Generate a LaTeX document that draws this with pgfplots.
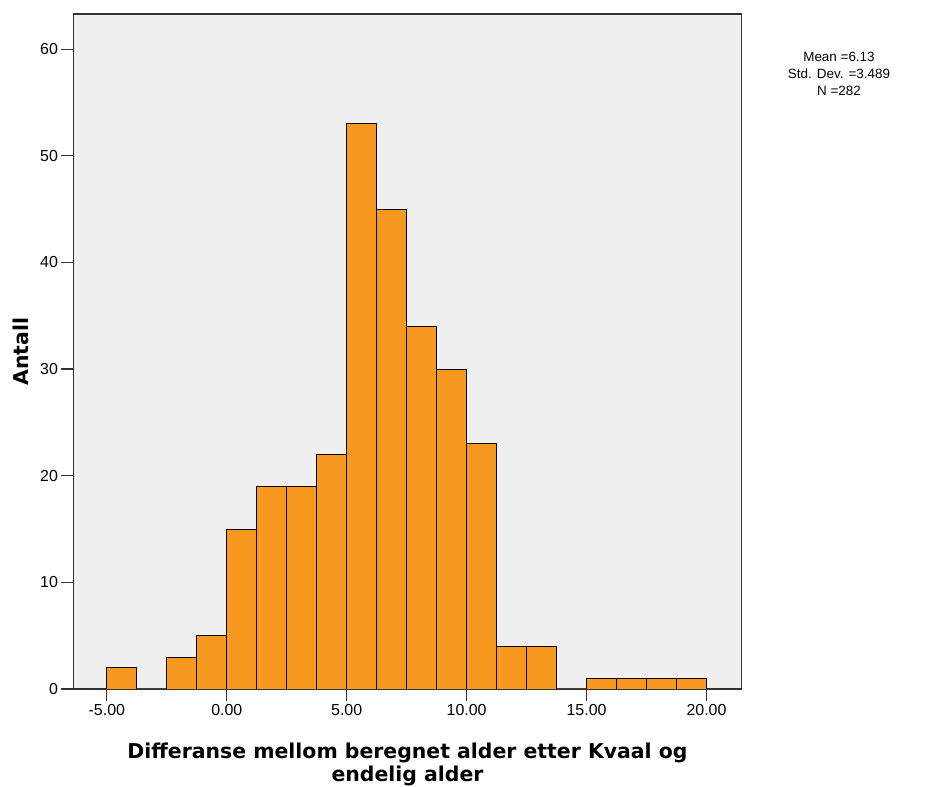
\documentclass[border=0pt]{standalone}
\usepackage{fontspec}
\setmainfont{Liberation Sans}
\newfontfamily\labfont{DejaVu Sans}
\usepackage{pgfplots}
\pgfplotsset{compat=1.18}
\definecolor{barfill}{HTML}{F7991F}
\definecolor{bgc}{HTML}{F0F0F0}
\definecolor{axc}{HTML}{333333}
\begin{document}
\begin{tikzpicture}[x=1bp,y=1bp]
\useasboundingbox (0,0) rectangle (929,787);
\begin{axis}[
  at={(73.5bp,98bp)}, anchor=south west,
  scale only axis, width=668bp, height=675bp,
  xmin=-6.39, xmax=21.46, ymin=0, ymax=63.3,
  axis background/.style={fill=bgc},
  axis line style={draw=axc, line width=1.2pt},
  xtick={-5,0,5,10,15,20}, ytick={0,10,20,30,40,50,60},
  xtick pos=bottom, ytick pos=left, tick align=outside,
  major tick length=12bp,
  tick style={draw=axc, line width=1.3pt},
  minor tick num=0,
  /pgf/number format/assume math mode=true,
  x tick label style={/pgf/number format/.cd, fixed, fixed zerofill, precision=2},
  ticklabel style={font=\fontsize{16}{18}\selectfont},
  xlabel={Differanse mellom beregnet alder etter Kvaal og\\endelig alder},
  xlabel style={align=center, font=\labfont\bfseries\fontsize{20.5}{23}\selectfont,
    at={(axis description cs:0.5,-0.075)}, anchor=north},
  ylabel={Antall},
  ylabel style={font=\labfont\bfseries\fontsize{20.5}{23}\selectfont,
    at={(axis description cs:-0.079,0.5)}, anchor=center},
]
\addplot[ybar interval, fill=barfill, draw=black, line width=0.9pt] table {
x y
-5 2
-3.75 0
-2.5 3
-1.25 5
0 15
1.25 19
2.5 19
3.75 22
5 53
6.25 45
7.5 34
8.75 30
10 23
11.25 4
12.5 4
13.75 0
15 1
16.25 1
17.5 1
18.75 1
20 1
};
\end{axis}
\node[align=center, font=\fontsize{13.5}{17}\selectfont, anchor=center] at (839,713) {Mean =6.13\\Std. Dev. =3.489\\N =282};
\end{tikzpicture}
\end{document}
